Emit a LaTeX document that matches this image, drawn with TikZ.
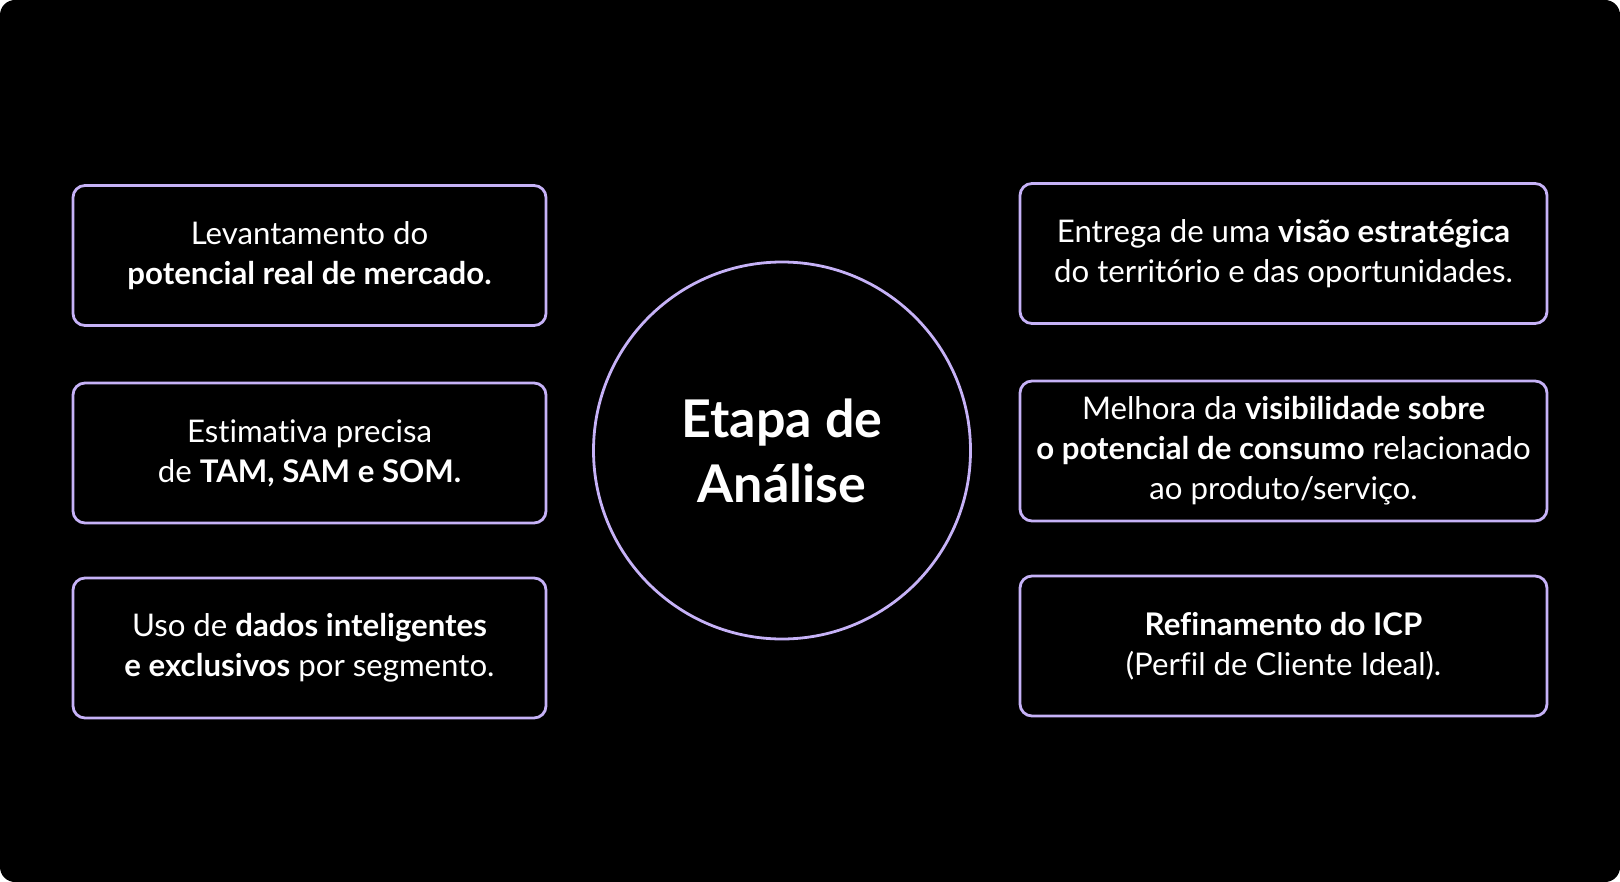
\documentclass[tikz,border=0pt]{standalone}
\usepackage{fontspec}
\setmainfont{Lato}[Ligatures=NoCommon]
\usepackage{xcolor}
\definecolor{lilac}{HTML}{C6B2F7}

\begin{document}
\begin{tikzpicture}[x=0.5pt, y=-0.5pt,
        card/.style={draw=lilac, line width=1.4pt, rounded corners=6pt, text=white, align=center, minimum height=70pt, font=\fontsize{15.6}{20}\selectfont},
        leftcard/.style={card, minimum width=236.5pt},
        rightcard/.style={card, minimum width=263.5pt},
        hub/.style={draw=lilac, line width=1.4pt, circle, minimum size=188.5pt, text=white, align=center, font=\bfseries\fontsize{26}{32.5}\selectfont}
    ]

        % Background
        \path[use as bounding box] (0,0) rectangle (1620,882);
        \fill[black, rounded corners=7.5pt] (0,0) rectangle (1620,882);

        % Central circle
        \node[hub] (analise) at (782, 450.5) {Etapa de\\Análise};

        % Left cards
        \node[leftcard] (mercado) at (309.5, 255.5) {Levantamento do\\\textbf{potencial real de mercado.}};
        \node[leftcard] (tam) at (309.5, 453) {Estimativa precisa\\de \textbf{TAM, SAM e SOM.}};
        \node[leftcard] (dados) at (309.5, 648) {Uso de \textbf{dados inteligentes}\\\textbf{e exclusivos} por segmento.};

        % Right cards
        \node[rightcard] (visao) at (1283.5, 253.5) {Entrega de uma \textbf{visão estratégica}\\do território e das oportunidades.};
        \node[rightcard] (consumo) at (1283.5, 451) {Melhora da \textbf{visibilidade sobre}\\\textbf{o potencial de consumo} relacionado\\ao produto/serviço.};
        \node[rightcard] (icp) at (1283.5, 646) {\textbf{Refinamento do ICP}\\(Perfil de Cliente Ideal).};

\end{tikzpicture}
\end{document}
